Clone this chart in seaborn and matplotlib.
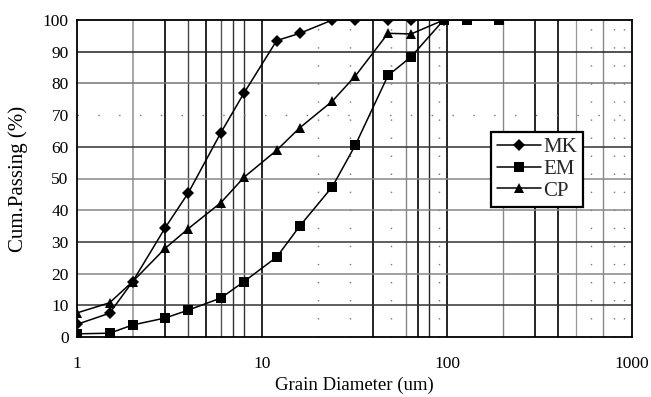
import matplotlib
matplotlib.use("Agg")
import matplotlib.pyplot as plt
import seaborn as sns
import pandas as pd
from matplotlib.ticker import FixedLocator, NullLocator, FixedFormatter

# Grain size distribution (sizes in um, cumulative % passing)
mk_diam = [1, 1.5, 2, 3, 4, 6, 8, 12, 16, 24, 32, 48, 64, 96]
mk_pass = [4.0, 7.5, 17.5, 34.5, 45.5, 64.5, 77.0, 93.5, 95.8, 100, 100, 100, 100, 100]

em_diam = [1, 1.5, 2, 3, 4, 6, 8, 12, 16, 24, 32, 48, 64, 96, 128, 192]
em_pass = [1.0, 1.2, 3.8, 6.0, 8.5, 12.3, 17.5, 25.2, 35.0, 47.4, 60.6, 82.5, 88.4, 100, 100, 100]

cp_diam = [1, 1.5, 2, 3, 4, 6, 8, 12, 16, 24, 32, 48, 64, 96]
cp_pass = [7.6, 10.8, 17.5, 28.0, 34.2, 42.4, 50.4, 58.9, 66.0, 74.4, 82.4, 95.8, 95.6, 100]

series_names = ["MK", "EM", "CP"]
x_ticks = [1, 10, 100, 1000]
x_tick_labels = ["1", "10", "100", "1000"]
y_ticks = list(range(0, 101, 10))

sns.set_theme(style="white")
plt.rcParams["font.family"] = ["Liberation Serif", "DejaVu Serif"]

fig = plt.figure(figsize=(6.51, 3.97), dpi=100)
ax = fig.add_axes([77 / 651, 1 - 337 / 397, 555 / 651, 317 / 397])
ax.set_facecolor("white")

# Grid drawn by hand to reproduce the uneven line weights of the printed chart
vgrid = [(2, "#9a9a9a", 1.2), (3, "black", 1.2), (4, "#444444", 1.0),
         (5, "black", 1.2), (6, "#555555", 1.0), (7, "#333333", 1.0),
         (8, "#333333", 1.0), (10, "black", 1.2), (40, "black", 1.2),
         (60, "#888888", 1.0), (70, "black", 1.2), (80, "#222222", 1.0),
         (100, "black", 1.2), (200, "#888888", 1.0), (300, "black", 1.2),
         (400, "black", 1.2), (500, "#999999", 0.9), (700, "#888888", 1.0)]
for xv, c, lw in vgrid:
    ax.axvline(xv, color=c, lw=lw, zorder=1)
for xv in [20, 30, 50, 90, 600, 800, 900]:
    ax.axvline(xv, color="#777777", lw=1.0, ls=(0, (1, 12)), zorder=1)

hgrid = {10: "#333333", 20: "#888888", 30: "#333333", 40: "#888888",
         50: "#888888", 60: "#333333", 80: "#777777", 90: "#222222"}
for yv, c in hgrid.items():
    ax.axhline(yv, color=c, lw=1.1, zorder=1)
ax.axhline(70, color="#777777", lw=1.0, ls=(0, (1, 14)), zorder=1)

data = [(mk_diam, mk_pass, "D", 6.5), (em_diam, em_pass, "s", 7.0), (cp_diam, cp_pass, "^", 7.5)]
for (xs, ys, mk, ms), name in zip(data, series_names):
    sns.lineplot(x=xs, y=ys, ax=ax, color="black", lw=1.1, marker=mk,
                 markersize=ms, markeredgewidth=0, markerfacecolor="black",
                 label=name, sort=False, zorder=3)

ax.set_xscale("log")
ax.set_xlim(1, 1000)
ax.set_ylim(0, 100)
ax.xaxis.set_major_locator(FixedLocator(x_ticks))
ax.xaxis.set_major_formatter(FixedFormatter(x_tick_labels))
ax.xaxis.set_minor_locator(NullLocator())
ax.set_yticks(y_ticks)

for s in ax.spines.values():
    s.set_color("black")
    s.set_linewidth(1.3)
    s.set_zorder(4)

ax.tick_params(axis="both", which="major", direction="out", length=4, width=1.2,
               color="black", labelsize=12.5, labelcolor="black")
ax.tick_params(axis="x", pad=10)
ax.tick_params(axis="y", pad=2)

ax.set_xlabel("Grain Diameter (um)", fontsize=13.5, color="black")
ax.xaxis.set_label_coords(0.5, -0.125)
ax.set_ylabel("Cum.Passing (%)", fontsize=15, color="black")
ax.yaxis.set_label_coords(-0.088, 0.5)

handles, labels = ax.get_legend_handles_labels()
leg = ax.legend(handles, labels, loc="upper left", bbox_to_anchor=(0.746, 0.648),
                borderaxespad=0, frameon=True, fancybox=False, framealpha=1,
                edgecolor="black", fontsize=15, handlelength=2.1,
                handletextpad=0.1, labelspacing=0.1, borderpad=0.3)
leg.get_frame().set_linewidth(1.6)
leg.set_zorder(5)

fig.savefig("out.png", dpi=100)
